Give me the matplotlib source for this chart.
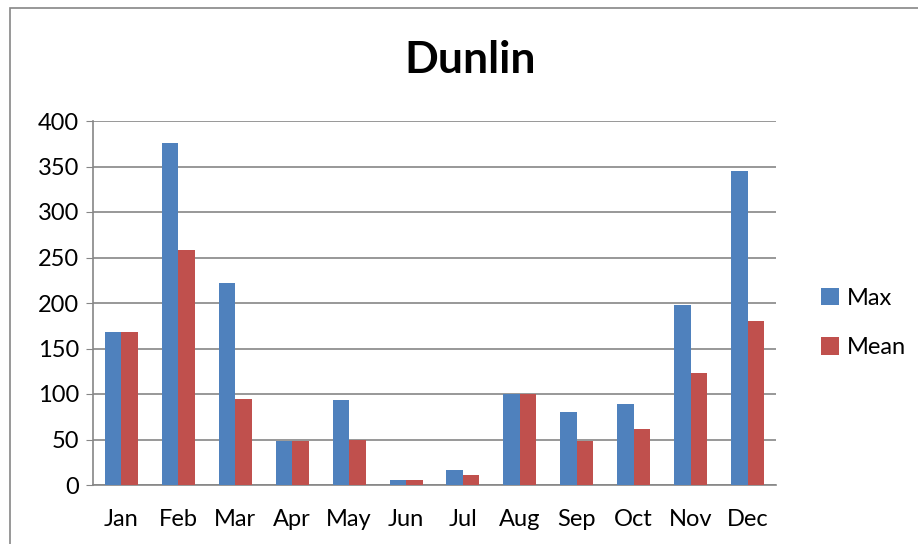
import numpy as np
import matplotlib.pyplot as plt
from matplotlib.patches import Rectangle

months = ["Jan", "Feb", "Mar", "Apr", "May", "Jun",
          "Jul", "Aug", "Sep", "Oct", "Nov", "Dec"]
max_counts = [168, 376, 222, 48, 93, 5, 16, 100, 80, 89, 198, 345]
mean_counts = [168, 258, 95, 48, 50, 5, 11, 100, 48, 61, 123, 180]

plt.rcParams["font.family"] = ["Lato", "DejaVu Sans"]

fig = plt.figure(figsize=(9.18, 5.44), dpi=100)
# outer chart border (Excel style)
fig.patches.append(Rectangle((10 / 918, -0.1), 1.2, 1.1 - 8 / 544,
                             transform=fig.transFigure, fill=False,
                             edgecolor="#868686", linewidth=1.2))

ax = fig.add_axes([93 / 918, 59 / 544, 683 / 918, 364 / 544])

x = np.arange(len(months))
w = 0.29
ax.bar(x - w / 2, max_counts, w, color="#4F81BD", label="Max", zorder=3)
ax.bar(x + w / 2, mean_counts, w, color="#C0504D", label="Mean", zorder=3)

ax.set_xlim(-0.5, 11.5)
ax.set_ylim(0, 400)
ax.set_yticks(range(0, 401, 50))
ax.set_xticks(x)
ax.set_xticklabels(months)
ax.yaxis.grid(True, color="#868686", linewidth=1.2, zorder=0)

for s in ["top", "right"]:
    ax.spines[s].set_visible(False)
for s in ["left", "bottom"]:
    ax.spines[s].set_color("#868686")
    ax.spines[s].set_linewidth(1.2)
ax.tick_params(axis="y", length=5, color="#868686", labelsize=17, pad=5)
ax.tick_params(axis="x", length=0, labelsize=17, pad=17)

fig.text(470 / 918, 1 - 60 / 544, "Dunlin", ha="center", va="center",
         fontsize=32, fontweight="bold")

ax.legend(loc="center left", bbox_to_anchor=(1.035, 0.445), frameon=False,
          fontsize=17, handlelength=0.75, handleheight=0.75, handletextpad=0.35,
          labelspacing=1.2)

fig.savefig("out.png", dpi=100)
